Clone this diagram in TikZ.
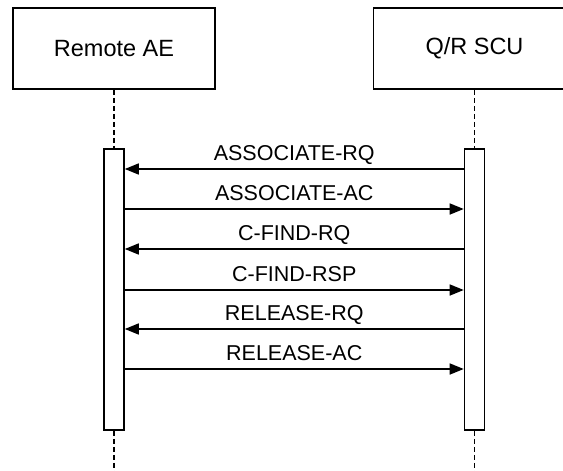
\documentclass[tikz,border=0pt]{standalone}
\usepackage{fontspec}
\setmainfont{Liberation Sans}
\usetikzlibrary{arrows.meta}

\tikzset{
  actor/.style={draw,line width=1.6pt,minimum width=202pt,minimum height=81pt,inner sep=0pt,font=\fontsize{23.5}{28}\selectfont},
  bar/.style={draw,line width=1.6pt,fill=white,minimum width=20pt,minimum height=281pt,inner sep=0pt},
  life/.style={line width=1.6pt,dash pattern=on 5pt off 3pt},
  msg/.style={line width=1.6pt,-{Triangle[length=14pt,width=11pt]}},
  msglabel/.style={anchor=base,yshift=9pt,font=\fontsize{21.5}{26}\selectfont}
}

\begin{document}
\begin{tikzpicture}[x=1pt,y=-1pt]
 \useasboundingbox (0,0) rectangle (563,471);
 \node[actor] (remote) at (114,48.5) {Remote AE};
 \node[actor] (scu) at (474.5,48.5) {Q/R SCU};
 \node[bar] (remotebar) at (114,289.5) {};
 \node[bar] (scubar) at (474.5,289.5) {};
 \coordinate (remoteend) at (114,471);
 \coordinate (scuend) at (474.5,471);
 % lifelines
 \draw[life] (remote.south) -- (remotebar.north);
 \draw[life] (remotebar.south) -- (remoteend);
 \draw[life] (scu.south) -- (scubar.north);
 \draw[life] (scubar.south) -- (scuend);
 % messages
 \coordinate (m1) at (0,169);
 \coordinate (m2) at (0,209);
 \coordinate (m3) at (0,249);
 \coordinate (m4) at (0,290);
 \coordinate (m5) at (0,329);
 \coordinate (m6) at (0,369);
 \draw[msg] (scubar.west |- m1) -- node[msglabel] {ASSOCIATE-RQ} (remotebar.east |- m1);
 \draw[msg] (remotebar.east |- m2) -- node[msglabel] {ASSOCIATE-AC} (scubar.west |- m2);
 \draw[msg] (scubar.west |- m3) -- node[msglabel] {C-FIND-RQ} (remotebar.east |- m3);
 \draw[msg] (remotebar.east |- m4) -- node[msglabel] {C-FIND-RSP} (scubar.west |- m4);
 \draw[msg] (scubar.west |- m5) -- node[msglabel] {RELEASE-RQ} (remotebar.east |- m5);
 \draw[msg] (remotebar.east |- m6) -- node[msglabel] {RELEASE-AC} (scubar.west |- m6);
\end{tikzpicture}
\end{document}
